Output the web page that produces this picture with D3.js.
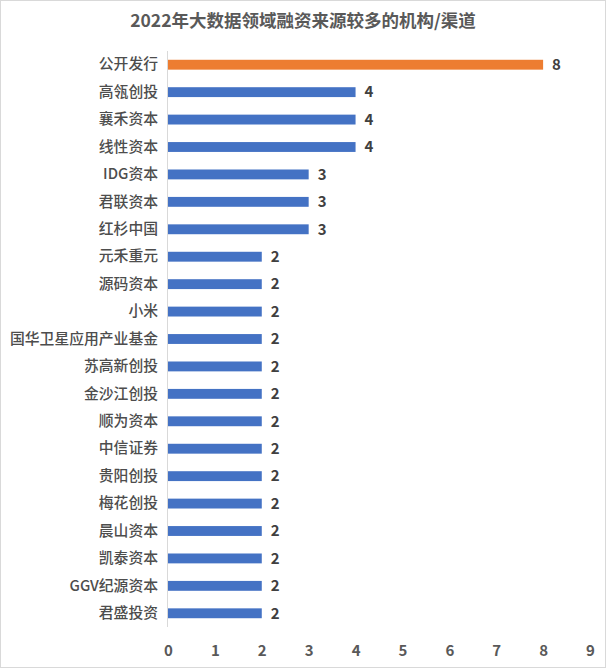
<!DOCTYPE html>
<html>
<head>
<meta charset="utf-8">
<script src="https://cdn.jsdelivr.net/npm/d3@7"></script>
<style>
  body { margin: 0; background: #fff; }
  text { font-family: "Noto Sans CJK SC", "Microsoft YaHei", sans-serif; }
</style>
</head>
<body>
<script>
const width = 606;
const height = 668;

const categories = ['公开发行', '高瓴创投', '襄禾资本', '线性资本', 'IDG资本', '君联资本', '红杉中国',
    '元禾重元', '源码资本', '小米', '国华卫星应用产业基金', '苏高新创投', '金沙江创投', '顺为资本',
    '中信证券', '贵阳创投', '梅花创投', '晨山资本', '凯泰资本', 'GGV纪源资本', '君盛投资'];
const counts = [8, 4, 4, 4, 3, 3, 3, 2, 2, 2, 2, 2, 2, 2, 2, 2, 2, 2, 2, 2, 2];
const x_ticks = [0, 1, 2, 3, 4, 5, 6, 7, 8, 9];
const title = '2022年大数据领域融资来源较多的机构/渠道';

const margin = { top: 51, left: 168, right: 16, bottom: 41 };

const svg = d3.select('body').append('svg')
    .attr('width', width)
    .attr('height', height);

// outer border
svg.append('rect')
    .attr('x', 0.5).attr('y', 0.5)
    .attr('width', width - 1).attr('height', height - 1)
    .attr('fill', '#fff')
    .attr('stroke', '#d9d9d9');

svg.append('text')
    .attr('x', width / 2)
    .attr('y', 27)
    .attr('text-anchor', 'middle')
    .attr('font-size', 17.5)
    .attr('font-weight', 'bold')
    .attr('fill', '#595959')
    .text(title);

const x = d3.scaleLinear()
    .domain([0, 9])
    .range([margin.left, 590]);

const y = d3.scaleBand()
    .domain(categories)
    .range([margin.top, height - margin.bottom])
    .paddingInner(0.64)
    .paddingOuter(0.32);

// x axis, labels only
const x_axis = svg.append('g')
    .attr('transform', `translate(0,${height - 17})`)
    .call(d3.axisBottom(x).tickValues(x_ticks).tickSize(0).tickPadding(0));
x_axis.select('.domain').remove();
x_axis.selectAll('text')
    .attr('dy', '0.32em')
    .attr('font-size', 15)
    .attr('font-weight', 'bold')
    .attr('fill', '#595959');

// category axis line
svg.append('line')
    .attr('x1', x(0) - 0.5).attr('x2', x(0) - 0.5)
    .attr('y1', margin.top).attr('y2', height - margin.bottom)
    .attr('stroke', '#d9d9d9');

const y_axis = svg.append('g')
    .attr('transform', `translate(${x(0) - 10},0)`)
    .call(d3.axisLeft(y).tickSize(0).tickPadding(0));
y_axis.select('.domain').remove();
y_axis.selectAll('text')
    .attr('font-size', 14.8)
    .attr('font-weight', 500)
    .attr('fill', '#4d4d4d');

const rows = categories.map((c, i) => ({ name: c, value: counts[i] }));

svg.selectAll('.bar')
    .data(rows)
    .enter()
    .append('rect')
        .attr('class', 'bar')
        .attr('x', x(0))
        .attr('y', (d) => y(d.name))
        .attr('width', (d) => x(d.value) - x(0))
        .attr('height', y.bandwidth())
        .attr('fill', (d, i) => i === 0 ? '#ed7d31' : '#4472c4');

svg.selectAll('.value-label')
    .data(rows)
    .enter()
    .append('text')
        .attr('class', 'value-label')
        .attr('x', (d) => x(d.value) + 9)
        .attr('y', (d) => y(d.name) + y.bandwidth() / 2)
        .attr('dy', '0.35em')
        .attr('font-size', 15)
        .attr('font-weight', 'bold')
        .attr('fill', '#404040')
        .text((d) => d.value);
</script>
</body>
</html>
